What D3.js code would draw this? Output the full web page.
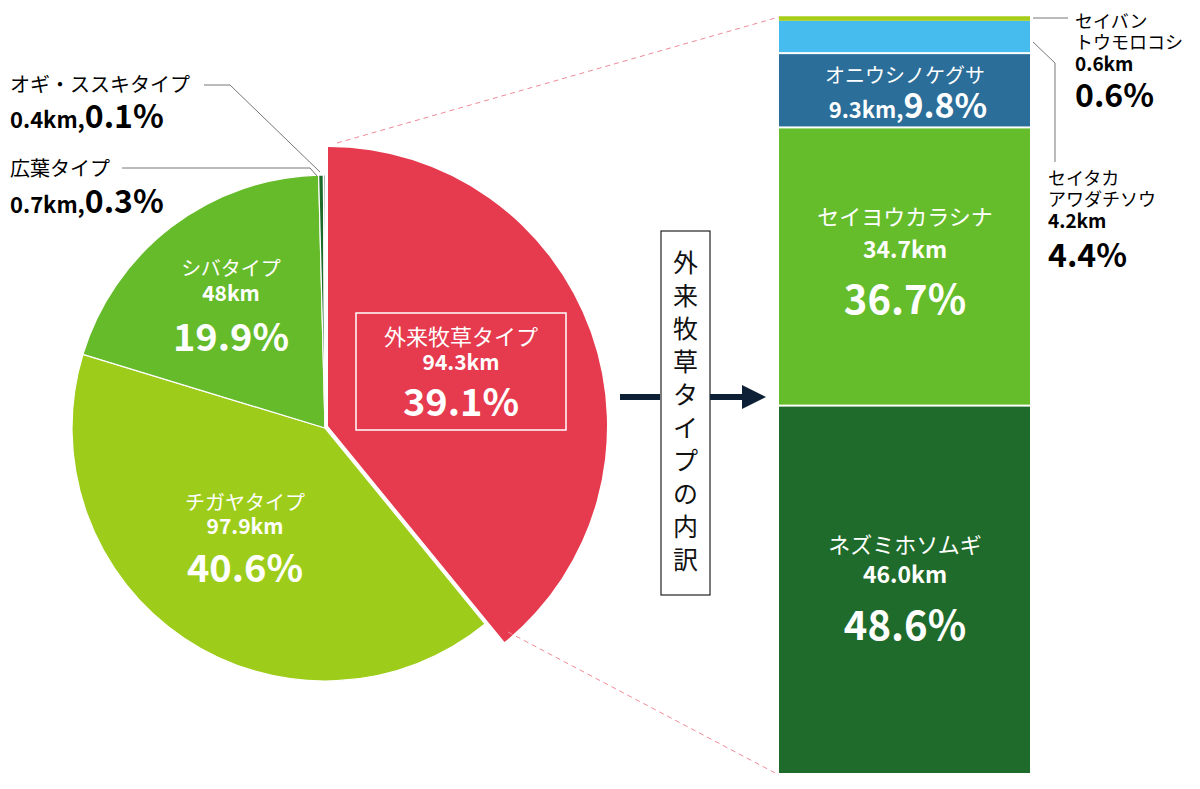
<!DOCTYPE html><html><head><meta charset="utf-8"><script src="https://cdn.jsdelivr.net/npm/d3@7"></script>
<style>body{margin:0;background:#fff}text{font-family:"Noto Sans CJK JP",Roboto,sans-serif}</style></head><body>
<svg id="c" width="1200" height="789"></svg>
<script>
const pieCats=["外来牧草タイプ","チガヤタイプ","シバタイプ","広葉タイプ","オギ・ススキタイプ"];
const pieKm=[94.3,97.9,48,0.7,0.4];
const piePct=[39.1,40.6,19.9,0.3,0.1];
const pieColors=["#e63a4e","#9dcd1a","#66bb2b","#1d6b2a","#24402e"];
const barCats=["ネズミホソムギ","セイヨウカラシナ","オニウシノケグサ","セイタカアワダチソウ","セイバントウモロコシ"];
const barKm=[46.0,34.7,9.3,4.2,0.6];
const barPct=[48.6,36.7,9.8,4.4,0.6];
const barColors=["#1f6b2b","#66bd2b","#2a6e99","#45bbee","#a8cc1a"];

const svg=d3.select("#c");
const cx=325,cy=428,R=253;
const arcs=d3.pie().sort(null).value(d=>d)(piePct);
const g=svg.append("g").attr("transform",`translate(${cx},${cy})`);
const ys=d3.scaleLinear().domain([0,100]).range([775,17]);
svg.append("line").attr("x1",337).attr("y1",143).attr("x2",779).attr("y2",ys(100)).attr("stroke","#f08a98").attr("stroke-dasharray","5,4");
svg.append("line").attr("x1",508).attr("y1",632).attr("x2",779).attr("y2",ys(0)).attr("stroke","#f08a98").attr("stroke-dasharray","5,4");
arcs.forEach((a,i)=>{
  const big=i===0;
  const arc=d3.arc().innerRadius(0).outerRadius(big?279:R);
  g.append("path").attr("d",arc(a)).attr("fill",pieColors[i]).attr("stroke","#fff").attr("stroke-width",big?0:1.2)
   .attr("transform",big?"translate(3,-2)":null);
});
function lbl(x,y,lines){
  lines.forEach(l=>svg.append("text").attr("x",x).attr("y",l[0]).attr("text-anchor",l[3]||"middle").attr("fill",l[2]||"#fff")
   .attr("font-size",l[1]).attr("font-weight",l[4]||"normal").attr("font-family",l[5]||null).text(l[6]));
}
const NUM="Roboto";
svg.append("rect").attr("x",356).attr("y",313).attr("width",210).attr("height",117).attr("fill","none").attr("stroke","#fff").attr("stroke-width",1.5);
lbl(461,0,[[345,22,"#fff","middle","normal",null,pieCats[0]],[370,21,"#fff","middle","bold",NUM,pieKm[0]+"km"],[416,38,"#fff","middle","bold",NUM,piePct[0]+"%"]]);
lbl(245,0,[[510,20,"#fff","middle","normal",null,pieCats[1]],[534,21,"#fff","middle","bold",NUM,pieKm[1]+"km"],[582,38,"#fff","middle","bold",NUM,piePct[1]+"%"]]);
lbl(231,0,[[276,20,"#fff","middle","normal",null,pieCats[2]],[301,21,"#fff","middle","bold",NUM,pieKm[2]+"km"],[351,38,"#fff","middle","bold",NUM,piePct[2]+"%"]]);
svg.append("text").attr("x",10).attr("y",92).attr("font-size",20).text(pieCats[4]);
const t1=svg.append("text").attr("x",10).attr("y",128).attr("font-family",NUM).attr("font-weight","bold");
t1.append("tspan").attr("font-size",22).text(pieKm[4]+"km,");t1.append("tspan").attr("font-size",32).text(piePct[4]+"%");
svg.append("text").attr("x",10).attr("y",176).attr("font-size",20).text(pieCats[3]);
const t2=svg.append("text").attr("x",10).attr("y",213).attr("font-family",NUM).attr("font-weight","bold");
t2.append("tspan").attr("font-size",22).text(pieKm[3]+"km,");t2.append("tspan").attr("font-size",32).text(piePct[3]+"%");
svg.append("polyline").attr("points","204,85 230,85 320,172").attr("fill","none").attr("stroke","#777");
svg.append("polyline").attr("points","122,168 310,168 317,176").attr("fill","none").attr("stroke","#777");
svg.append("rect").attr("x",661).attr("y",231).attr("width",49).attr("height",364).attr("fill","#fff").attr("stroke","#222").attr("stroke-width",1.2);
"外来牧草タイプの内訳".split("").forEach((ch,i)=>svg.append("text").attr("x",685.5).attr("y",272+i*33).attr("text-anchor","middle").attr("font-size",25).attr("fill","#111").text(ch));
svg.append("line").attr("x1",620).attr("y1",397).attr("x2",660).attr("y2",397).attr("stroke","#0d2035").attr("stroke-width",6);
svg.append("line").attr("x1",710).attr("y1",397).attr("x2",745).attr("y2",397).attr("stroke","#0d2035").attr("stroke-width",6);
svg.append("path").attr("d","M742,385 L766,397 L742,409Z").attr("fill","#0d2035");
let cum=0;
barPct.forEach((p,i)=>{
  const y0=ys(cum),y1=ys(cum+p);cum+=p;
  svg.append("rect").attr("x",779).attr("y",y1).attr("width",251).attr("height",Math.max(1,y0-y1-(i<4?2:0))).attr("fill",barColors[i]);
});
lbl(905,0,[[553,22,"#fff","middle","normal",null,barCats[0]],[583,23,"#fff","middle","bold",NUM,barKm[0].toFixed(1)+"km"],[640,40,"#fff","middle","bold",NUM,barPct[0]+"%"]]);
lbl(905,0,[[225,22,"#fff","middle","normal",null,barCats[1]],[258,23,"#fff","middle","bold",NUM,barKm[1]+"km"],[314,40,"#fff","middle","bold",NUM,barPct[1]+"%"]]);
svg.append("text").attr("x",905).attr("y",83).attr("text-anchor","middle").attr("font-size",20).attr("fill","#fff").text(barCats[2]);
const t3=svg.append("text").attr("x",908).attr("y",118).attr("text-anchor","middle").attr("fill","#fff").attr("font-family",NUM).attr("font-weight","bold");
t3.append("tspan").attr("font-size",22).text(barKm[2]+"km,");t3.append("tspan").attr("font-size",34).text(barPct[2]+"%");
[["セイバン",28],["トウモロコシ",49]].forEach(d=>svg.append("text").attr("x",1075).attr("y",d[1]).attr("font-size",18).text(d[0]));
svg.append("text").attr("x",1075).attr("y",71).attr("font-size",19).attr("font-weight","bold").attr("font-family",NUM).text(barKm[4]+"km");
svg.append("text").attr("x",1075).attr("y",107).attr("font-size",32).attr("font-weight","bold").attr("font-family",NUM).text(barPct[4]+"%");
[["セイタカ",185],["アワダチソウ",206]].forEach(d=>svg.append("text").attr("x",1048).attr("y",d[1]).attr("font-size",18).text(d[0]));
svg.append("text").attr("x",1048).attr("y",228).attr("font-size",19).attr("font-weight","bold").attr("font-family",NUM).text(barKm[3]+"km");
svg.append("text").attr("x",1048).attr("y",267).attr("font-size",32).attr("font-weight","bold").attr("font-family",NUM).text(barPct[3]+"%");
svg.append("line").attr("x1",1033).attr("y1",18).attr("x2",1068).attr("y2",18).attr("stroke","#777");
svg.append("polyline").attr("points","1033,42 1055,63 1055,162").attr("fill","none").attr("stroke","#777");
</script></body></html>
